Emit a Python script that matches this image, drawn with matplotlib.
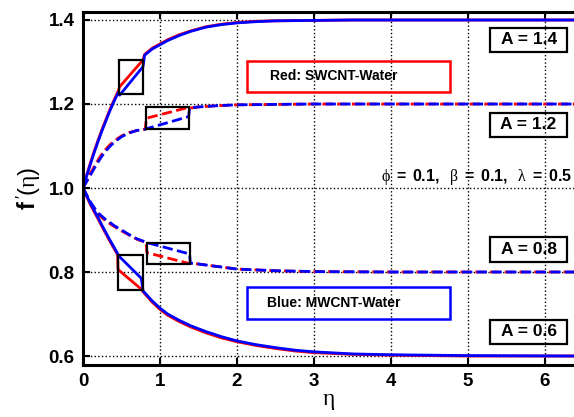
import matplotlib
matplotlib.use("Agg")
import matplotlib.pyplot as plt
from matplotlib.patches import Rectangle

plt.rcParams['font.family'] = ['Liberation Sans', 'DejaVu Sans']
plt.rcParams['mathtext.fontset'] = 'custom'
plt.rcParams['mathtext.rm'] = 'Liberation Sans'
plt.rcParams['mathtext.bf'] = 'Liberation Sans:bold'
plt.rcParams['mathtext.it'] = 'Liberation Serif'

# A = 1.4 (solid, upper)
eta_14 = [0, 0.05, 0.1, 0.15, 0.2, 0.25, 0.3, 0.35, 0.4, 0.46, 0.476, 0.78, 0.80, 0.9, 1.0, 1.1, 1.25,
          1.4, 1.6, 1.8, 2.0, 2.25, 2.5, 3.0, 3.5, 4.0, 5.0, 6.4]
red_14 = [1.0, 1.032, 1.062, 1.090, 1.116, 1.141, 1.164, 1.187, 1.208, 1.232, 1.241, 1.305, 1.318, 1.333,
          1.343, 1.353, 1.365, 1.374, 1.384, 1.390, 1.394, 1.397, 1.398, 1.399, 1.4, 1.4, 1.4, 1.4]
blue_14 = [1.0, 1.030, 1.059, 1.087, 1.113, 1.138, 1.161, 1.184, 1.205, 1.228, 1.221, 1.289, 1.316, 1.331,
           1.341, 1.351, 1.363, 1.373, 1.383, 1.389, 1.393, 1.396, 1.398, 1.399, 1.4, 1.4, 1.4, 1.4]

# A = 1.2 (dashed, upper)
eta_12 = [0, 0.05, 0.1, 0.15, 0.2, 0.25, 0.3, 0.35, 0.4, 0.5, 0.6, 0.7, 0.81, 0.822, 1.373, 1.385,
          1.5, 1.75, 2.0, 2.5, 3.0, 4.0, 5.0, 6.4]
red_12 = [1.0, 1.019, 1.036, 1.052, 1.068, 1.082, 1.093, 1.103, 1.111, 1.124, 1.132, 1.137, 1.140, 1.166,
          1.192, 1.190, 1.193, 1.196, 1.198, 1.199, 1.2, 1.2, 1.2, 1.2]
blue_12 = [1.0, 1.016, 1.032, 1.048, 1.063, 1.077, 1.089, 1.099, 1.108, 1.122, 1.131, 1.137, 1.140, 1.141,
           1.170, 1.190, 1.193, 1.196, 1.198, 1.199, 1.2, 1.2, 1.2, 1.2]

# A = 0.8 (dashed, lower)
eta_08 = [0, 0.05, 0.1, 0.15, 0.2, 0.25, 0.3, 0.35, 0.4, 0.5, 0.6, 0.7, 0.82, 0.83, 1.385, 1.395,
          1.5, 1.75, 2.0, 2.5, 3.0, 4.0, 5.0, 6.4]
red_08 = [1.0, 0.981, 0.963, 0.949, 0.937, 0.929, 0.921, 0.915, 0.909, 0.898, 0.888, 0.878, 0.870, 0.846,
          0.820, 0.821, 0.819, 0.813, 0.807, 0.803, 0.801, 0.800, 0.800, 0.800]
blue_08 = [1.0, 0.983, 0.966, 0.952, 0.940, 0.932, 0.924, 0.918, 0.911, 0.900, 0.889, 0.879, 0.871, 0.870,
           0.843, 0.821, 0.819, 0.813, 0.807, 0.803, 0.801, 0.800, 0.800, 0.800]

# A = 0.6 (solid, lower)
eta_06 = [0, 0.05, 0.1, 0.15, 0.2, 0.25, 0.3, 0.35, 0.4, 0.45, 0.455, 0.758, 0.78, 0.9, 1.0, 1.1, 1.25,
          1.4, 1.6, 1.8, 2.0, 2.25, 2.5, 2.75, 3.0, 3.5, 4.0, 5.0, 6.4]
red_06 = [1.0, 0.979, 0.959, 0.942, 0.925, 0.907, 0.890, 0.873, 0.857, 0.841, 0.806, 0.759, 0.753, 0.728,
          0.711, 0.697, 0.682, 0.669, 0.655, 0.643, 0.634, 0.625, 0.618, 0.612, 0.608, 0.604, 0.602, 0.600, 0.600]
blue_06 = [1.0, 0.981, 0.962, 0.945, 0.928, 0.910, 0.893, 0.876, 0.860, 0.844, 0.840, 0.785, 0.755, 0.731,
           0.714, 0.700, 0.685, 0.672, 0.658, 0.646, 0.636, 0.627, 0.620, 0.614, 0.610, 0.605, 0.603, 0.601, 0.600]

a_labels = ["A = 1.4", "A = 1.2", "A = 0.8", "A = 0.6"]
a_box_y = [(1.324, 1.381), (1.121, 1.179), (0.824, 0.883), (0.629, 0.686)]

# zoom boxes: (eta0, eta1, f0, f1)
zoom_boxes = [(0.47, 0.78, 1.224, 1.305), (0.82, 1.38, 1.140, 1.193),
              (0.83, 1.39, 0.819, 0.869), (0.455, 0.78, 0.757, 0.840)]

fig = plt.figure(figsize=(5.74, 4.17), dpi=100)
ax = fig.add_axes([0.1446, 0.1247, 0.8554, 0.8465])

lw = 2.0
ax.plot(eta_14, red_14, color='#ff0000', lw=lw)
ax.plot(eta_06, red_06, color='#ff0000', lw=lw)
ax.plot(eta_12, red_12, color='#ff0000', lw=lw, ls='--')
ax.plot(eta_08, red_08, color='#ff0000', lw=lw, ls='--')
ax.plot(eta_14, blue_14, color='#0000ff', lw=lw)
ax.plot(eta_06, blue_06, color='#0000ff', lw=lw)
ax.plot(eta_12, blue_12, color='#0000ff', lw=lw, ls='--')
ax.plot(eta_08, blue_08, color='#0000ff', lw=lw, ls='--')

for x0, x1, y0, y1 in zoom_boxes:
    ax.add_patch(Rectangle((x0, y0), x1 - x0, y1 - y0, fill=False, ec='black', lw=1.6, zorder=5))

for lab, (y0, y1) in zip(a_labels, a_box_y):
    ax.add_patch(Rectangle((5.29, y0), 1.0, y1 - y0, fill=False, ec='black', lw=1.6, zorder=5))
    ax.text(5.79, (y0 + y1) / 2, lab, ha='center', va='center', fontsize=12.5, fontweight='bold')

ax.add_patch(Rectangle((2.13, 1.229), 2.64, 0.073, fill=False, ec='#ff0000', lw=1.8, zorder=5))
ax.text(2.43, 1.266, "Red: SWCNT-Water", ha='left', va='center', fontsize=10, fontweight='bold')
ax.add_patch(Rectangle((2.13, 0.688), 2.64, 0.076, fill=False, ec='#0000ff', lw=1.8, zorder=5))
ax.text(2.39, 0.726, "Blue: MWCNT-Water", ha='left', va='center', fontsize=10, fontweight='bold')

ax.text(6.36, 1.026,
        r"$\phi\ \mathbf{=\ 0.1,}\ \ \beta\ \mathbf{=\ 0.1,}\ \ \lambda\ \mathbf{=\ 0.5}$",
        ha='right', va='center', fontsize=11.5)

ax.set_xlim(0, 6.38)
ax.set_ylim(0.5786, 1.419)
ax.set_xticks([0, 1, 2, 3, 4, 5, 6])
ax.set_yticks([0.6, 0.8, 1.0, 1.2, 1.4])
ax.set_yticklabels(["0.6", "0.8", "1.0", "1.2", "1.4"])
ax.grid(True, color='black', ls=':', lw=1.0)
ax.tick_params(direction='in', length=5, width=1.5, top=True, labelsize=13.5, pad=6)
for t in ax.get_xticklabels() + ax.get_yticklabels():
    t.set_fontweight('bold')
for s in ['left', 'bottom', 'top']:
    ax.spines[s].set_linewidth(2.2)
ax.spines['right'].set_visible(False)

ax.set_xlabel(r"$\eta$", fontsize=17, labelpad=0)
ax.set_ylabel(r"$\mathbf{f}\,'(\eta)$", fontsize=17, labelpad=4)

fig.savefig("out.png", dpi=100)
